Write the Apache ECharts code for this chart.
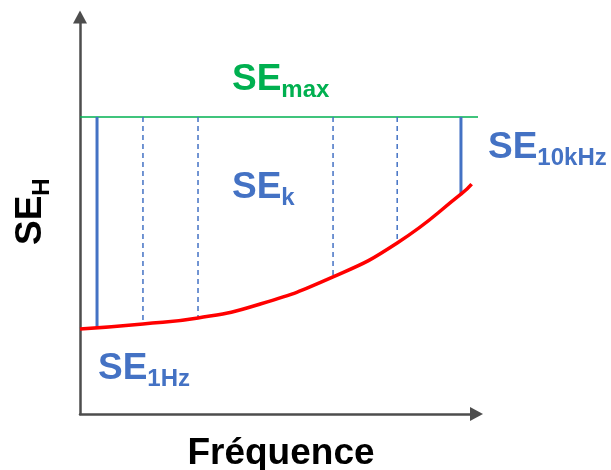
<!DOCTYPE html>
<html>
<head>
<meta charset="utf-8">
<script src="https://cdn.jsdelivr.net/npm/echarts@6/dist/echarts.min.js"></script>
<style>
html, body { margin: 0; padding: 0; background: #fff; }
#chart { width: 611px; height: 470px; }
</style>
</head>
<body>
<div id="chart"></div>
<script>
// courbe SE_H en fonction de la frequence (unites arbitraires 0..100)
var freqX   = [0, 15.9, 29.8, 44.7, 63.9, 80.1, 96.5, 98.9];
var seCurve = [21.5, 22.8, 24.3, 27.6, 34.7, 43.3, 55.9, 58.2];

// niveau SE max
var seMax = 75.2;
var seMaxEnd = 100.8;

// traits verticaux SE_k (1Hz ... 10kHz)
var kX      = [4.3, 15.9, 29.8, 63.9, 80.1, 96.2];
var kBottom = [21.8, 22.8, 24.3, 34.7, 43.3, 55.4];
var kSolid  = [true, false, false, false, false, true];

var FONT = '"Liberation Sans", Arial, sans-serif';
var BLUE = '#4472c4', GREEN = '#00b050', RED = '#ff0000', AXIS = '#4d4d4d';
var BIG = 37, SMALL = 24;

var ctx = document.createElement('canvas').getContext('2d');
function textWidth(s, size) {
    ctx.font = 'bold ' + size + 'px ' + FONT;
    return ctx.measureText(s).width;
}

// "SE" + indice, place par rapport a la ligne de base
function seLabel(x, base, sub, color, drop, rotation) {
    var w = textWidth('SE', BIG);
    return {
        type: 'group', x: x, y: base, rotation: rotation || 0,
        children: [
            { type: 'text', x: 0, y: -0.33 * BIG,
              style: { text: 'SE', fill: color, fontSize: BIG, fontWeight: 'bold', fontFamily: FONT, align: 'left', verticalAlign: 'middle' } },
            { type: 'text', x: w, y: drop - 0.33 * SMALL,
              style: { text: sub, fill: color, fontSize: SMALL, fontWeight: 'bold', fontFamily: FONT, align: 'left', verticalAlign: 'middle' } }
        ]
    };
}

var series = [];
series.push({
    type: 'line', data: [[0, seMax], [seMaxEnd, seMax]], symbol: 'none', clip: false,
    lineStyle: { color: GREEN, width: 1.5 }, z: 2
});
kX.forEach(function (x, i) {
    series.push({
        type: 'line', data: [[x, seMax], [x, kBottom[i]]], symbol: 'none', clip: false,
        lineStyle: { color: BLUE, width: kSolid[i] ? 3 : 1.5, type: kSolid[i] ? 'solid' : [5, 4] }, z: 3
    });
});
series.push({
    type: 'line', data: freqX.map(function (x, i) { return [x, seCurve[i]]; }),
    smooth: 0.5, symbol: 'none', clip: false,
    lineStyle: { color: RED, width: 3.5 }, z: 4
});

function axis(offset) {
    return {
        type: 'value', min: 0, max: 100,
        axisLine: { show: true, symbol: ['none', 'triangle'], symbolSize: [14, 13], symbolOffset: [0, offset],
                    lineStyle: { color: AXIS, width: 2.5 } },
        axisTick: { show: false }, axisLabel: { show: false }, splitLine: { show: false }
    };
}

var chart = echarts.init(document.getElementById('chart'));
chart.setOption({
    animation: false,
    backgroundColor: '#fff',
    grid: { left: 80, top: 19, right: 135, bottom: 56, containLabel: false, outerBoundsMode: 'none' },
    xAxis: axis(0.5),
    yAxis: axis(2),
    series: series,
    graphic: [
        seLabel(232, 92, 'max', GREEN, 6),
        seLabel(232, 200, 'k', BLUE, 6),
        seLabel(488, 160, '10kHz', BLUE, 6),
        seLabel(98, 381, '1Hz', BLUE, 6),
        seLabel(43, 245, 'H', '#000', 7, Math.PI / 2),
        { type: 'text', x: 281, y: 466 - 0.33 * BIG,
          style: { text: 'Fréquence', fill: '#000', fontSize: BIG, fontWeight: 'bold', fontFamily: FONT, align: 'center', verticalAlign: 'middle' } }
    ]
});
</script>
</body>
</html>
